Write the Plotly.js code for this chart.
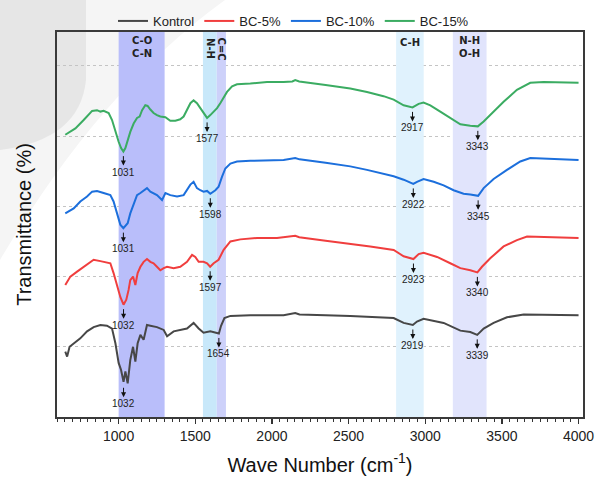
<!DOCTYPE html>
<html><head><meta charset="utf-8">
<script src="https://cdn.plot.ly/plotly-3.0.1.min.js"></script>
<style>html,body{margin:0;padding:0;background:#fff}#chart{width:603px;height:480px}</style>
</head><body><div id="chart"></div>
<script>
// ---- data ----
const seriesNames = ['Kontrol', 'BC-5%', 'BC-10%', 'BC-15%'];

const kontrolX = [652, 664, 680, 707, 750, 794, 837, 881, 924, 957, 979, 1000, 1016, 1032, 1044, 1059, 1076, 1094, 1109, 1124, 1142, 1163, 1185, 1207, 1250, 1294, 1316, 1359, 1402, 1446, 1489, 1522, 1554, 1598, 1654, 1668, 1690, 1729, 1859, 2076, 2152, 2180, 2350, 2511, 2794, 2859, 2919, 2946, 2989, 3120, 3229, 3294, 3339, 3381, 3446, 3533, 3642, 3816, 4000];
const kontrolY = [0.93, 0.86, 1.00, 1.05, 1.12, 1.22, 1.28, 1.31, 1.30, 1.26, 1.05, 0.77, 0.67, 0.50, 0.65, 0.48, 0.81, 1.00, 0.79, 1.05, 1.17, 1.10, 1.31, 1.30, 1.28, 1.24, 1.15, 1.22, 1.24, 1.26, 1.34, 1.26, 1.20, 1.22, 1.19, 1.30, 1.41, 1.44, 1.45, 1.45, 1.48, 1.46, 1.45, 1.44, 1.41, 1.34, 1.31, 1.36, 1.40, 1.34, 1.23, 1.21, 1.17, 1.26, 1.34, 1.42, 1.46, 1.46, 1.45];

const bc5X = [652, 685, 729, 772, 815, 837, 881, 913, 946, 967, 990, 1011, 1032, 1050, 1065, 1076, 1094, 1109, 1124, 1142, 1163, 1185, 1207, 1228, 1250, 1272, 1294, 1316, 1359, 1402, 1446, 1479, 1500, 1522, 1554, 1577, 1597, 1620, 1652, 1685, 1729, 1794, 1903, 2033, 2152, 2178, 2350, 2511, 2641, 2794, 2859, 2923, 2957, 2989, 3077, 3163, 3229, 3294, 3340, 3370, 3424, 3511, 3598, 3664, 3816, 4000];
const bc5Y = [1.88, 2.00, 2.07, 2.14, 2.21, 2.24, 2.22, 2.21, 2.19, 2.05, 1.86, 1.71, 1.60, 1.67, 1.81, 1.95, 2.00, 1.88, 2.05, 2.14, 2.21, 2.25, 2.21, 2.19, 2.14, 2.09, 2.12, 2.14, 2.12, 2.14, 2.21, 2.31, 2.28, 2.21, 2.21, 2.19, 2.14, 2.19, 2.24, 2.38, 2.50, 2.53, 2.55, 2.55, 2.58, 2.56, 2.51, 2.47, 2.43, 2.38, 2.29, 2.25, 2.32, 2.34, 2.28, 2.19, 2.12, 2.09, 2.06, 2.14, 2.26, 2.43, 2.52, 2.57, 2.56, 2.55];

const bc10X = [652, 707, 750, 794, 827, 859, 902, 946, 967, 990, 1011, 1031, 1059, 1076, 1098, 1120, 1142, 1163, 1185, 1207, 1228, 1250, 1283, 1305, 1337, 1381, 1424, 1446, 1468, 1489, 1511, 1533, 1554, 1577, 1598, 1631, 1652, 1674, 1696, 1729, 1772, 1859, 1968, 2076, 2152, 2180, 2350, 2511, 2620, 2728, 2794, 2859, 2922, 2946, 2989, 3055, 3120, 3185, 3250, 3294, 3345, 3381, 3446, 3533, 3620, 3685, 3816, 4000];
const bc10Y = [2.90, 2.97, 3.07, 3.14, 3.21, 3.22, 3.19, 3.16, 3.07, 2.90, 2.74, 2.69, 2.76, 2.90, 3.02, 3.16, 3.19, 3.23, 3.26, 3.21, 3.19, 3.16, 3.09, 3.19, 3.16, 3.14, 3.16, 3.23, 3.31, 3.35, 3.26, 3.23, 3.21, 3.22, 3.18, 3.23, 3.28, 3.42, 3.54, 3.61, 3.64, 3.65, 3.66, 3.66, 3.69, 3.67, 3.62, 3.57, 3.52, 3.47, 3.43, 3.38, 3.32, 3.35, 3.39, 3.35, 3.30, 3.23, 3.18, 3.17, 3.15, 3.26, 3.39, 3.52, 3.64, 3.69, 3.68, 3.66];

const bc15X = [652, 718, 772, 794, 827, 859, 881, 902, 935, 957, 979, 1000, 1016, 1031, 1044, 1059, 1076, 1098, 1120, 1137, 1153, 1174, 1189, 1207, 1228, 1250, 1272, 1305, 1337, 1370, 1402, 1424, 1446, 1468, 1489, 1511, 1533, 1554, 1577, 1598, 1620, 1642, 1663, 1685, 1707, 1740, 1772, 1859, 1968, 2076, 2133, 2152, 2178, 2350, 2511, 2620, 2728, 2794, 2859, 2917, 2957, 2989, 3033, 3098, 3163, 3229, 3294, 3343, 3381, 3446, 3511, 3598, 3685, 3772, 3902, 4000];
const bc15Y = [4.02, 4.11, 4.23, 4.28, 4.36, 4.37, 4.35, 4.36, 4.33, 4.23, 4.06, 3.92, 3.83, 3.78, 3.83, 3.95, 4.06, 4.18, 4.26, 4.28, 4.37, 4.44, 4.43, 4.38, 4.33, 4.30, 4.28, 4.27, 4.22, 4.22, 4.24, 4.28, 4.37, 4.47, 4.51, 4.47, 4.40, 4.33, 4.26, 4.30, 4.35, 4.40, 4.47, 4.56, 4.63, 4.71, 4.74, 4.75, 4.77, 4.77, 4.78, 4.80, 4.78, 4.73, 4.68, 4.63, 4.57, 4.52, 4.44, 4.41, 4.46, 4.48, 4.44, 4.35, 4.26, 4.17, 4.15, 4.14, 4.21, 4.35, 4.49, 4.66, 4.76, 4.77, 4.77, 4.76];

const kontrolPeaks = [1032, 1654, 2919, 3339];
const bc5Peaks = [1032, 1597, 2923, 3340];
const bc10Peaks = [1031, 1598, 2922, 3345];
const bc15Peaks = [1031, 1577, 2917, 3343];

const bandStart = [1000, 1550, 1640, 2810, 3180];
const bandEnd = [1300, 1640, 1700, 2990, 3400];
const bandLabels = ['C-O<br>C-N', 'N-H', 'C=C', 'C-H', 'N-H<br>O-H'];

const xTickVals = [1000, 1500, 2000, 2500, 3000, 3500, 4000];
const xTickText = ['1000', '1500', '2000', '2500', '3000', '3500', '4000'];
const yGridVals = [1, 2, 3, 4, 5];

// ---- styling ----
const X_RANGE = [598, 4029];
const Y_RANGE = [0, 5.484];
const lineColors = ['#474747', '#f03e3e', '#1c6fdc', '#3bac62'];
const bandColors = ['#b9befa', '#c8e8fa', '#cdd1fa', '#e0f2fd', '#e1e4fc'];
const bandLabelAngle = [0, 90, 90, 0, 0];
const bandLabelY = [0.961, 0.956, 0.956, 0.972, 0.962];
const FONT = 'Liberation Sans, Arial, sans-serif';

const xs = [kontrolX, bc5X, bc10X, bc15X];
const ys = [kontrolY, bc5Y, bc10Y, bc15Y];
const peaks = [kontrolPeaks, bc5Peaks, bc10Peaks, bc15Peaks];

const traces = seriesNames.map((n, i) => ({
  type: 'scatter', mode: 'lines', name: n, x: xs[i], y: ys[i],
  line: {color: lineColors[i], width: 2}
}));

function localMin(xArr, yArr, px) {
  let m = Infinity;
  for (let k = 0; k < xArr.length; k++) if (Math.abs(xArr[k] - px) <= 30 && yArr[k] < m) m = yArr[k];
  return m;
}

const annotations = [];
peaks.forEach((pk, i) => {
  pk.forEach(p => {
    const yv = localMin(xs[i], ys[i], p);
    annotations.push({x: p, y: yv, xref: 'x', yref: 'y', text: '', showarrow: true,
      ax: 0, ay: -11, yshift: -14, arrowhead: 2, arrowsize: 1, arrowwidth: 1, arrowcolor: '#111'});
    annotations.push({x: p, y: yv, xref: 'x', yref: 'y', text: String(p), showarrow: false,
      yanchor: 'top', yshift: -13, font: {family: FONT, size: 10, color: '#222'}});
  });
});
bandLabels.forEach((t, i) => {
  annotations.push({x: (bandStart[i] + bandEnd[i]) / 2, y: bandLabelY[i], xref: 'x', yref: 'y domain',
    text: '<b>' + t + '</b>', showarrow: false, textangle: bandLabelAngle[i],
    xanchor: 'center', yanchor: 'middle',
    font: {family: 'DejaVu Sans, sans-serif', size: 10, color: '#222'}});
});

const shapes = [
  // faint background decoration
  {type: 'path', xref: 'paper', yref: 'paper', layer: 'below', line: {width: 0}, fillcolor: '#f5f5f5',
   path: 'M -0.1084,1.0121 L 0.3194,1.0121 Q 0.0817,0.7937 -0.1084,0.3811 Z'},
  {type: 'path', xref: 'paper', yref: 'paper', layer: 'below', line: {width: 0}, fillcolor: '#e6e6e6',
   path: 'M -0.1084,1.0121 L 0.0551,1.0121 L 0.0551,0.8180 Q 0.0437,0.6723 -0.1084,0.6481 Z'}
];
bandStart.forEach((s, i) => {
  shapes.push({type: 'rect', xref: 'x', yref: 'y', x0: s, x1: bandEnd[i], y0: Y_RANGE[0], y1: Y_RANGE[1],
    fillcolor: bandColors[i], line: {width: 0}, layer: 'between'});
});

const layout = {
  width: 603, height: 480,
  margin: {l: 57, r: 20, t: 5, b: 63},
  paper_bgcolor: '#ffffff', plot_bgcolor: 'rgba(0,0,0,0)',
  font: {family: FONT, color: '#222'},
  showlegend: true,
  legend: {orientation: 'h', x: 0.4496, xanchor: 'center', y: 0.9612, yanchor: 'middle',
    bgcolor: 'rgba(0,0,0,0)', font: {family: FONT, size: 13, color: '#222'}, traceorder: 'normal'},
  xaxis: {range: X_RANGE, tickvals: xTickVals, ticktext: xTickText, ticks: 'outside', ticklen: 5,
    tickwidth: 1.5, tickcolor: '#333', showline: true, linewidth: 2, linecolor: '#3a3a3a', mirror: true,
    showgrid: false, zeroline: false, tickfont: {family: FONT, size: 14, color: '#222'},
    minor: {dtick: 50, tick0: 0, ticks: 'outside', ticklen: 3, tickwidth: 1, tickcolor: '#333', showgrid: false},
    title: {text: 'Wave Number (cm<sup>-1</sup>)', font: {family: FONT, size: 20, color: '#111'}, standoff: 15}},
  yaxis: {domain: [0, 0.9345], range: Y_RANGE, tickvals: yGridVals, showticklabels: false, ticks: '', showline: true,
    linewidth: 2, linecolor: '#3a3a3a', mirror: true, showgrid: true, gridcolor: '#c4c4c4', griddash: 'dot',
    gridwidth: 1, zeroline: false,
    title: {text: 'Transmittance (%)', font: {family: FONT, size: 20, color: '#111'}, standoff: 18}},
  shapes: shapes,
  annotations: annotations
};

Plotly.newPlot('chart', traces, layout, {displayModeBar: false, staticPlot: true});
</script></body></html>
